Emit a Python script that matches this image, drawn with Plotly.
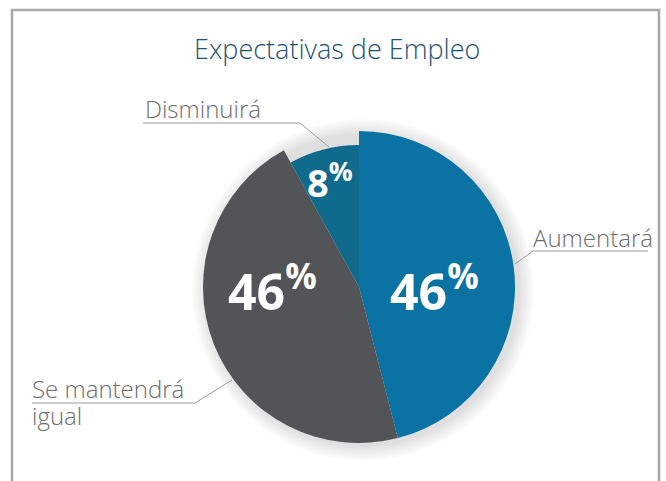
import plotly.graph_objects as go

# ---- data ----
categories = ["Aumentará", "Se mantendrá igual", "Disminuirá"]
values = [46, 46, 8]
slice_colors = ["#0b73a3", "#535457", "#0f6a8c"]
title_text = "Expectativas de Empleo"

W, H = 666, 481

def px(x):
    return x / W

def py(y):
    return 1 - y / H

# pie geometry (pixels)
cx, cy, R, R_small = 359, 287, 156, 142

fig = go.Figure()

transparent = "rgba(0,0,0,0)"

# big pie: the two 46% slices
fig.add_trace(go.Pie(
    labels=categories, values=values, sort=False, direction="clockwise", rotation=0,
    marker=dict(colors=[slice_colors[0], slice_colors[1], transparent], line=dict(width=0)),
    textinfo="none", hoverinfo="label+percent", showlegend=False,
    domain=dict(x=[px(cx - R), px(cx + R)], y=[py(cy + R), py(cy - R)]),
))
# smaller pie: the 8% slice (smaller radius)
fig.add_trace(go.Pie(
    labels=categories, values=values, sort=False, direction="clockwise", rotation=0,
    marker=dict(colors=[transparent, transparent, slice_colors[2]], line=dict(width=0)),
    textinfo="none", hoverinfo="label+percent", showlegend=False,
    domain=dict(x=[px(cx - R_small), px(cx + R_small)], y=[py(cy + R_small), py(cy - R_small)]),
))

shapes = []
# soft shadow behind the pie
for i in range(8):
    rr = R + 1 + i * 2
    scx, scy = cx + 4, cy + 3
    shapes.append(dict(type="circle", xref="paper", yref="paper", layer="below",
                       x0=px(scx - rr), x1=px(scx + rr), y0=py(scy + rr), y1=py(scy - rr),
                       fillcolor="rgba(0,0,0,0.016)", line=dict(width=0)))
# frame
shapes.append(dict(type="rect", xref="paper", yref="paper", x0=px(12), x1=px(659), y0=py(495), y1=py(10),
                   line=dict(color="#a5a7aa", width=2.5), fillcolor=transparent, layer="below"))
# leader lines
lc = dict(color="#9a9b9e", width=1)
def seg(x0, y0, x1, y1):
    shapes.append(dict(type="line", xref="paper", yref="paper", x0=px(x0), y0=py(y0), x1=px(x1), y1=py(y1), line=lc))
seg(143, 123, 300, 123); seg(300, 123, 329, 147)
seg(533, 251, 648, 251); seg(533, 251, 515, 264)
seg(32, 403, 195, 403); seg(195, 403, 232, 380)

label_font = dict(family="Open Sans", size=24, color="#6d6e71", weight=300)
annotations = [
    dict(text=title_text, x=px(337), y=py(49), xref="paper", yref="paper", showarrow=False,
         xanchor="center", yanchor="middle", font=dict(family="Open Sans", size=27, color="#1f5373", weight=300)),
    dict(text=categories[2], x=px(143), y=py(108), xref="paper", yref="paper", showarrow=False,
         xanchor="left", yanchor="middle", font=label_font),
    dict(text=categories[0], x=px(531), y=py(237), xref="paper", yref="paper", showarrow=False,
         xanchor="left", yanchor="middle", font=label_font),
    dict(text="Se mantendrá", x=px(30), y=py(388), xref="paper", yref="paper", showarrow=False,
         xanchor="left", yanchor="middle", font=label_font),
    dict(text="igual", x=px(30), y=py(415), xref="paper", yref="paper", showarrow=False,
         xanchor="left", yanchor="middle", font=label_font),
]
pct_pos = [(434, 288, 50), (272, 288, 50), (330, 180, 38)]
for v, (x, y, s) in zip(values, pct_pos):
    annotations.append(dict(text=f"<b>{v}<sup>%</sup></b>", x=px(x), y=py(y), xref="paper", yref="paper",
                            showarrow=False, xanchor="center", yanchor="middle",
                            font=dict(family="Open Sans", size=s, color="white")))

fig.update_layout(
    width=W, height=H, margin=dict(l=0, r=0, t=0, b=0),
    paper_bgcolor="white", plot_bgcolor="white",
    shapes=shapes, annotations=annotations, showlegend=False,
)

fig.write_html("out.html", config={"displayModeBar": False},
               post_script="document.body.style.margin='0';document.body.style.overflow='hidden';")
